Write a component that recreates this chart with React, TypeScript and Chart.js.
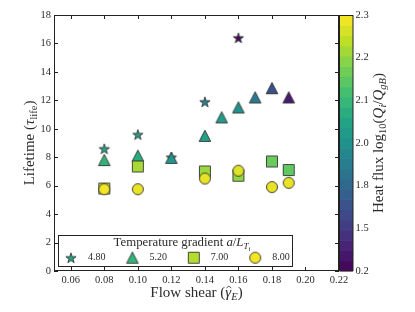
import React, { useEffect, useRef } from 'react';
import { Chart, registerables } from 'chart.js';

Chart.register(...registerables);

// ---------- data ----------
const gradients = [4.8, 5.2, 7.0, 8.0];

const starShear = [0.08, 0.10, 0.12, 0.14, 0.16];
const starLife = [8.6, 9.6, 8.0, 11.9, 16.4];
const starFlux = [2.06, 2.03, 2.0, 1.94, 0.43];

const triShear = [0.08, 0.10, 0.12, 0.14, 0.15, 0.16, 0.17, 0.18, 0.19];
const triLife = [7.8, 8.1, 7.95, 9.5, 10.8, 11.5, 12.2, 12.85, 12.2];
const triFlux = [2.09, 2.07, 2.01, 2.04, 2.03, 2.0, 1.88, 1.65, 0.75];

const sqShear = [0.08, 0.10, 0.14, 0.16, 0.18, 0.19];
const sqLife = [5.8, 7.35, 7.0, 6.7, 7.7, 7.1];
const sqFlux = [2.23, 2.22, 2.21, 2.2, 2.16, 2.15];

const circShear = [0.08, 0.10, 0.14, 0.16, 0.18, 0.19];
const circLife = [5.75, 5.75, 6.5, 7.05, 5.9, 6.2];
const circFlux = [2.29, 2.28, 2.28, 2.27, 2.28, 2.28];

const xTicks = [0.06, 0.08, 0.1, 0.12, 0.14, 0.16, 0.18, 0.2, 0.22];
const yTicks = [0, 2, 4, 6, 8, 10, 12, 14, 16, 18];
const cbTicks = [0.2, 1.5, 1.8, 2.0, 2.1, 2.2, 2.3];

// ---------- style ----------
const FONT = '"Liberation Serif", "DejaVu Serif", serif';
const TEXT = '#2b2b2b';
const EDGE = '#333333';

const VIR = ['#440154', '#482475', '#414487', '#355f8d', '#2a788e', '#21918c', '#22a884', '#44bf70', '#7ad151', '#bddf26', '#fde725'];

function hexRgb(h: string) {
  return [parseInt(h.slice(1, 3), 16), parseInt(h.slice(3, 5), 16), parseInt(h.slice(5, 7), 16)];
}
function viridis(t: number) {
  t = Math.max(0, Math.min(1, t));
  const p = t * (VIR.length - 1);
  const i = Math.min(VIR.length - 2, Math.floor(p));
  const f = p - i;
  const a = hexRgb(VIR[i]);
  const b = hexRgb(VIR[i + 1]);
  const c = a.map((v, k) => Math.round(v + (b[k] - v) * f));
  return `rgb(${c[0]},${c[1]},${c[2]})`;
}
function fluxToT(v: number) {
  const n = cbTicks.length - 1;
  for (let i = 0; i < n; i++) {
    const a = cbTicks[i];
    const b = cbTicks[i + 1];
    if (v <= b || i === n - 1) {
      return (i + Math.max(0, Math.min(1, (v - a) / (b - a)))) / n;
    }
  }
  return 1;
}
const fluxColor = (v: number) => viridis(fluxToT(v));

function makeMarker(shape: string, color: string) {
  const size = 18;
  const c = document.createElement('canvas');
  c.width = size;
  c.height = size;
  const g = c.getContext('2d')!;
  const m = size / 2;
  g.beginPath();
  if (shape === 'circle') {
    g.arc(m, m, 5.5, 0, Math.PI * 2);
  } else if (shape === 'square') {
    g.rect(m - 5.5, m - 5.5, 11, 11);
  } else if (shape === 'triangle') {
    g.moveTo(m, m - 5.7);
    g.lineTo(m + 5.8, m + 5.5);
    g.lineTo(m - 5.8, m + 5.5);
    g.closePath();
  } else {
    const R = 5.4;
    const r = R * 0.382;
    for (let k = 0; k < 10; k++) {
      const ang = -Math.PI / 2 + (k * Math.PI) / 5;
      const rr = k % 2 === 0 ? R : r;
      const px = m + rr * Math.cos(ang);
      const py = m + 0.6 + rr * Math.sin(ang);
      if (k === 0) g.moveTo(px, py);
      else g.lineTo(px, py);
    }
    g.closePath();
  }
  g.fillStyle = color;
  g.fill();
  g.lineWidth = 0.9;
  g.strokeStyle = EDGE;
  g.stroke();
  return c;
}

type Seg = { t: string; it?: boolean; lvl?: number; hat?: boolean };
function drawRich(ctx: CanvasRenderingContext2D, segs: Seg[], cx: number, cy: number, size: number, rot = 0) {
  ctx.save();
  ctx.translate(cx, cy);
  if (rot) ctx.rotate(rot);
  const scales = [1, 0.7, 0.55];
  const shifts = [0, 0.22, 0.36];
  let w = 0;
  const ms = segs.map((s) => {
    const fs = size * scales[s.lvl || 0];
    const font = `${s.it ? 'italic ' : ''}${fs}px ${FONT}`;
    ctx.font = font;
    const mw = ctx.measureText(s.t).width;
    w += mw;
    return { fs, font, mw };
  });
  let x = -w / 2;
  const base = size * 0.33;
  ctx.fillStyle = TEXT;
  ctx.strokeStyle = TEXT;
  ctx.textAlign = 'left';
  ctx.textBaseline = 'alphabetic';
  segs.forEach((s, i) => {
    const m = ms[i];
    ctx.font = m.font;
    const dy = shifts[s.lvl || 0] * size;
    ctx.fillText(s.t, x, base + dy);
    if (s.hat) {
      const hx = x + m.mw * 0.6;
      const top = base - m.fs * 0.72;
      ctx.beginPath();
      ctx.moveTo(hx - m.fs * 0.16, top + m.fs * 0.12);
      ctx.lineTo(hx, top);
      ctx.lineTo(hx + m.fs * 0.16, top + m.fs * 0.12);
      ctx.lineWidth = 0.8;
      ctx.stroke();
    }
    x += m.mw;
  });
  ctx.restore();
}

const yTitle: Seg[] = [{ t: 'Lifetime (' }, { t: 'τ', it: true }, { t: 'life', lvl: 1 }, { t: ')' }];
const xTitle: Seg[] = [{ t: 'Flow shear (' }, { t: 'γ', it: true, hat: true }, { t: 'E', it: true, lvl: 1 }, { t: ')' }];
const cbTitle: Seg[] = [
  { t: 'Heat flux log' },
  { t: '10', lvl: 1 },
  { t: '(' },
  { t: 'Q', it: true },
  { t: 'i', it: true, lvl: 1 },
  { t: '/' },
  { t: 'Q', it: true },
  { t: 'gB', it: true, lvl: 1 },
  { t: ')' },
];
const legTitle: Seg[] = [
  { t: 'Temperature gradient ' },
  { t: 'a', it: true },
  { t: '/' },
  { t: 'L', it: true },
  { t: 'T', it: true, lvl: 1 },
  { t: 'i', it: true, lvl: 2 },
];

const shapes = ['star', 'triangle', 'square', 'circle'];

export default function App() {
  const ref = useRef<HTMLCanvasElement>(null);
  useEffect(() => {
    const canvas = ref.current!;
    const series = [
      { xs: starShear, ys: starLife, fs: starFlux },
      { xs: triShear, ys: triLife, fs: triFlux },
      { xs: sqShear, ys: sqLife, fs: sqFlux },
      { xs: circShear, ys: circLife, fs: circFlux },
    ];
    const imgs = series.map((s, k) => s.fs.map((f) => makeMarker(shapes[k], fluxColor(f))));

    const decor = {
      id: 'decor',
      afterDatasetsDraw(chart: any) {
        const ctx: CanvasRenderingContext2D = chart.ctx;
        const a = chart.chartArea;
        const xs = chart.scales.x;
        const ys = chart.scales.y;
        ctx.save();
        // frame + inward ticks
        ctx.strokeStyle = '#222';
        ctx.lineWidth = 1;
        ctx.strokeRect(a.left + 0.5, a.top + 0.5, a.right - a.left - 1, a.bottom - a.top - 1);
        ctx.beginPath();
        xTicks.forEach((v) => {
          const px = Math.round(xs.getPixelForValue(v)) + 0.5;
          ctx.moveTo(px, a.bottom);
          ctx.lineTo(px, a.bottom - 4);
          ctx.moveTo(px, a.top);
          ctx.lineTo(px, a.top + 4);
        });
        yTicks.forEach((v) => {
          const py = Math.round(ys.getPixelForValue(v)) + 0.5;
          ctx.moveTo(a.left, py);
          ctx.lineTo(a.left + 4, py);
          ctx.moveTo(a.right, py);
          ctx.lineTo(a.right - 4, py);
        });
        ctx.stroke();

        // colorbar
        const cbL = a.right + 0.5;
        const cbW = 13.5;
        const top = a.top;
        const bot = a.bottom;
        const N = 25;
        const bh = (bot - top) / N;
        for (let k = 0; k < N; k++) {
          ctx.fillStyle = viridis((k + 0.5) / N);
          ctx.fillRect(cbL, bot - (k + 1) * bh, cbW, bh + 0.6);
        }
        ctx.strokeStyle = '#222';
        ctx.strokeRect(cbL, top + 0.5, cbW, bot - top - 1);
        ctx.fillStyle = TEXT;
        ctx.font = `10.5px ${FONT}`;
        ctx.textAlign = 'left';
        ctx.textBaseline = 'middle';
        cbTicks.forEach((v, i) => {
          const py = bot - (i * (bot - top)) / (cbTicks.length - 1);
          ctx.fillText(v.toFixed(1), cbL + cbW + 2.5, py);
        });

        // titles
        drawRich(ctx, yTitle, 29, (a.top + a.bottom) / 2, 15, -Math.PI / 2);
        drawRich(ctx, xTitle, (a.left + a.right) / 2, 292, 15);
        drawRich(ctx, cbTitle, 378, (a.top + a.bottom) / 2, 15, -Math.PI / 2);

        // legend
        const lx0 = a.left + 4.5;
        const lx1 = 292.5;
        const ly0 = 235.5;
        const ly1 = a.bottom - 4.5;
        ctx.fillStyle = '#fff';
        ctx.fillRect(lx0, ly0, lx1 - lx0, ly1 - ly0);
        ctx.strokeStyle = '#222';
        ctx.lineWidth = 1;
        ctx.strokeRect(lx0, ly0, lx1 - lx0, ly1 - ly0);
        drawRich(ctx, legTitle, 182, 242, 12.8);
        const itemY = 257.7;
        gradients.forEach((gv, k) => {
          const mx = 71 + k * 61.4;
          const img = imgs[k][0];
          ctx.drawImage(img, mx - img.width / 2, itemY - img.height / 2);
          ctx.fillStyle = TEXT;
          ctx.font = `10px ${FONT}`;
          ctx.textAlign = 'left';
          ctx.textBaseline = 'middle';
          ctx.fillText(gv.toFixed(2), mx + 17, itemY);
        });
        ctx.restore();
      },
    };

    const tickFont = { family: FONT, size: 10.5 };
    const chart = new Chart(canvas, {
      type: 'scatter',
      data: {
        datasets: series.map((s, k) => ({
          label: gradients[k].toFixed(2),
          data: s.xs.map((x, i) => ({ x, y: s.ys[i] })),
          pointStyle: imgs[k] as any,
          pointRadius: 6,
          order: 4 - k,
        })),
      },
      options: {
        animation: false,
        responsive: false,
        devicePixelRatio: 1,
        layout: { padding: { left: 0, top: 15, right: 76, bottom: 0 } },
        plugins: { legend: { display: false }, tooltip: { enabled: false } },
        scales: {
          x: {
            type: 'linear',
            min: 0.05,
            max: 0.22,
            afterBuildTicks: (s: any) => {
              s.ticks = xTicks.map((v) => ({ value: v }));
            },
            afterFit: (s: any) => {
              s.height = 41;
            },
            ticks: {
              callback: (v: any) => Number(v).toFixed(2),
              font: tickFont,
              color: TEXT,
              padding: 3,
              maxRotation: 0,
              autoSkip: false,
            },
            grid: { display: false, drawTicks: false },
            border: { display: false },
          },
          y: {
            type: 'linear',
            min: 0,
            max: 18,
            afterBuildTicks: (s: any) => {
              s.ticks = yTicks.map((v) => ({ value: v }));
            },
            afterFit: (s: any) => {
              s.width = 54;
            },
            ticks: {
              callback: (v: any) => String(v),
              font: tickFont,
              color: TEXT,
              padding: 3,
              autoSkip: false,
            },
            grid: { display: false, drawTicks: false },
            border: { display: false },
          },
        },
      },
      plugins: [decor],
    } as any);
    return () => chart.destroy();
  }, []);

  return (
    <div style={{ position: 'fixed', left: 0, top: 0, width: 415, height: 312, background: '#fff' }}>
      <canvas ref={ref} width={415} height={312} style={{ display: 'block', width: 415, height: 312 }} />
    </div>
  );
}
